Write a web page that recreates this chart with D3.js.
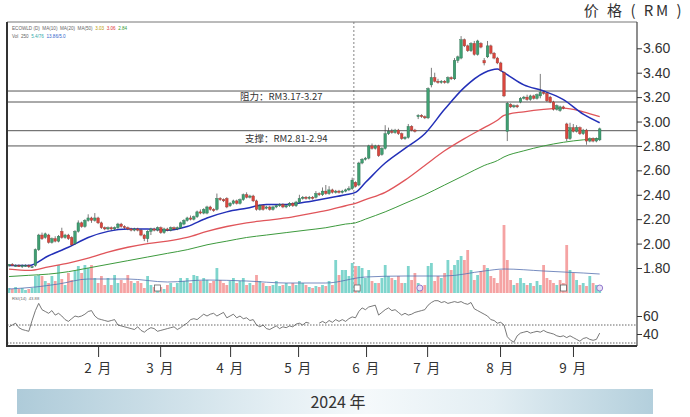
<!DOCTYPE html>
<html><head><meta charset="utf-8">
<script src="https://cdn.jsdelivr.net/npm/d3@7"></script>
<style>body{margin:0;background:#fff;} svg{display:block;font-family:"Liberation Sans",Arial,sans-serif;} text{white-space:pre;}</style>
</head><body><svg id="c" width="690" height="417"></svg>
<script>
// ---------- DATA ----------
const opens = [1.82,1.83,1.82,1.82,1.81,1.82,1.82,1.81,1.82,1.95,2.07,2.05,2.07,2.01,2.04,2.02,2.10,2.05,2.07,2.05,2.00,2.10,2.17,2.14,2.19,2.21,2.19,2.21,2.17,2.13,2.12,2.13,2.12,2.13,2.16,2.14,2.13,2.12,2.11,2.12,2.11,2.07,2.04,2.10,2.12,2.11,2.13,2.09,2.12,2.11,2.13,2.12,2.13,2.16,2.19,2.21,2.20,2.22,2.26,2.25,2.25,2.30,2.28,2.28,2.37,2.36,2.37,2.31,2.33,2.35,2.33,2.36,2.40,2.38,2.39,2.35,2.28,2.31,2.29,2.30,2.28,2.30,2.31,2.32,2.30,2.31,2.33,2.31,2.34,2.37,2.38,2.37,2.38,2.38,2.41,2.40,2.43,2.41,2.44,2.42,2.43,2.42,2.43,2.44,2.45,2.50,2.48,2.66,2.69,2.70,2.80,2.78,2.80,2.73,2.78,2.90,2.92,2.91,2.93,2.90,2.86,2.87,2.96,2.93,3.04,3.05,3.04,3.03,3.30,3.36,3.33,3.32,3.33,3.32,3.36,3.35,3.50,3.52,3.67,3.62,3.58,3.64,3.55,3.64,3.50,3.53,3.62,3.56,3.52,3.48,3.40,2.92,3.14,3.12,3.13,3.16,3.19,3.20,3.18,3.21,3.19,3.21,3.24,3.23,3.20,3.16,3.10,3.09,3.12,2.98,2.86,2.95,2.92,2.95,2.90,2.93,2.84,2.86,2.84,2.85];
const highs = [1.83,1.84,1.83,1.83,1.83,1.83,1.83,1.82,1.96,2.08,2.09,2.09,2.08,2.05,2.06,2.07,2.13,2.08,2.08,2.06,2.11,2.19,2.18,2.20,2.24,2.22,2.25,2.22,2.18,2.14,2.14,2.14,2.14,2.17,2.17,2.15,2.14,2.13,2.13,2.13,2.12,2.08,2.11,2.13,2.13,2.14,2.14,2.13,2.13,2.14,2.14,2.14,2.18,2.20,2.22,2.23,2.23,2.27,2.28,2.29,2.31,2.31,2.29,2.41,2.38,2.37,2.38,2.34,2.36,2.36,2.37,2.41,2.42,2.40,2.40,2.36,2.32,2.32,2.31,2.31,2.31,2.32,2.33,2.33,2.32,2.34,2.34,2.35,2.40,2.39,2.39,2.39,2.39,2.43,2.42,2.46,2.48,2.47,2.45,2.44,2.44,2.44,2.45,2.47,2.54,2.51,2.67,2.70,2.71,2.81,2.82,2.81,2.81,2.79,2.97,2.95,2.94,2.94,2.94,2.91,2.88,2.98,2.97,2.94,3.06,3.06,3.05,3.28,3.44,3.40,3.35,3.34,3.34,3.37,3.37,3.52,3.54,3.70,3.68,3.63,3.65,3.66,3.67,3.65,3.52,3.66,3.63,3.57,3.53,3.49,3.41,3.16,3.15,3.14,3.14,3.20,3.21,3.22,3.22,3.22,3.23,3.39,3.25,3.24,3.21,3.17,3.14,3.13,3.13,2.99,2.99,2.98,2.97,2.96,2.94,2.94,2.87,2.87,2.87,2.95];
const lows = [1.81,1.82,1.81,1.81,1.80,1.81,1.80,1.80,1.81,1.94,2.03,2.04,2.00,2.00,2.01,2.01,2.04,2.04,2.03,1.98,1.99,2.09,2.13,2.13,2.18,2.17,2.18,2.16,2.12,2.11,2.11,2.11,2.11,2.12,2.13,2.12,2.11,2.10,2.10,2.10,2.06,2.02,2.01,2.07,2.10,2.10,2.08,2.08,2.10,2.10,2.11,2.11,2.12,2.15,2.18,2.19,2.19,2.21,2.24,2.24,2.24,2.27,2.26,2.27,2.35,2.34,2.29,2.30,2.32,2.32,2.32,2.35,2.37,2.37,2.34,2.27,2.27,2.27,2.28,2.27,2.27,2.29,2.30,2.29,2.29,2.30,2.30,2.30,2.33,2.36,2.36,2.36,2.36,2.37,2.39,2.39,2.40,2.40,2.41,2.41,2.41,2.41,2.42,2.43,2.44,2.46,2.47,2.65,2.68,2.69,2.77,2.77,2.71,2.72,2.77,2.89,2.90,2.90,2.89,2.85,2.85,2.86,2.92,2.91,3.02,3.03,3.02,3.02,3.28,3.32,3.31,3.31,3.31,3.31,3.34,3.34,3.48,3.51,3.61,3.57,3.57,3.54,3.54,3.60,3.46,3.52,3.55,3.51,3.47,3.41,3.20,2.84,3.11,3.11,3.11,3.15,3.18,3.17,3.17,3.18,3.18,3.19,3.22,3.16,3.15,3.09,3.09,3.08,3.10,2.84,2.85,2.91,2.91,2.89,2.89,2.81,2.83,2.83,2.83,2.84];
const closes = [1.83,1.82,1.82,1.81,1.82,1.82,1.81,1.81,1.95,2.07,2.04,2.08,2.01,2.04,2.02,2.06,2.05,2.07,2.04,1.99,2.10,2.17,2.14,2.19,2.21,2.19,2.21,2.17,2.13,2.12,2.13,2.12,2.13,2.16,2.14,2.13,2.12,2.11,2.12,2.11,2.07,2.04,2.10,2.12,2.11,2.13,2.09,2.12,2.11,2.13,2.12,2.13,2.17,2.19,2.21,2.20,2.22,2.26,2.25,2.28,2.30,2.28,2.27,2.37,2.36,2.35,2.30,2.33,2.35,2.33,2.36,2.40,2.38,2.39,2.35,2.28,2.31,2.28,2.30,2.28,2.30,2.31,2.32,2.30,2.31,2.33,2.31,2.34,2.37,2.38,2.37,2.38,2.37,2.41,2.40,2.43,2.41,2.44,2.42,2.43,2.42,2.43,2.44,2.45,2.52,2.47,2.66,2.69,2.70,2.80,2.78,2.80,2.72,2.78,2.90,2.92,2.91,2.93,2.90,2.86,2.87,2.96,2.93,2.92,3.05,3.04,3.03,3.27,3.36,3.33,3.32,3.33,3.32,3.36,3.35,3.50,3.53,3.67,3.62,3.58,3.64,3.55,3.66,3.61,3.48,3.62,3.56,3.52,3.48,3.42,3.21,3.15,3.12,3.13,3.12,3.19,3.20,3.18,3.21,3.19,3.22,3.24,3.23,3.17,3.16,3.10,3.13,3.12,3.11,2.86,2.95,2.92,2.95,2.90,2.93,2.84,2.86,2.84,2.86,2.94];
const volumes = [5,4,6,4,5,3,4,5,17,18,17,12,10,17,12,28,14,8,20,13,22,27,20,28,25,28,15,10,17,8,15,8,18,10,13,10,18,12,10,12,10,5,17,8,6,5,6,4,8,10,6,10,15,12,15,10,18,17,12,15,13,10,12,25,13,10,8,12,15,10,12,15,8,10,8,18,12,10,7,7,8,12,7,8,10,7,10,8,12,10,8,6,5,7,6,8,7,12,8,33,18,23,23,17,30,27,27,25,15,23,12,10,10,15,28,17,15,13,17,10,10,27,13,20,10,7,8,27,30,12,17,15,20,33,23,28,33,37,33,43,23,13,18,22,28,25,17,15,10,23,68,33,13,8,10,15,10,8,10,7,12,8,28,15,13,10,8,13,10,48,23,20,13,8,10,7,17,10,8,8];
const rsi = [48,50,52,47,45,44,43,55,66,74,67,65,63,66,61,63,60,56,54,57,60,59,60,62,65,66,60,57,56,55,54,55,56,50,49,48,47,46,45,48,44,42,45,47,46,43,44,45,46,47,48,45,47,50,52,56,57,56,59,62,60,62,63,60,62,64,58,60,62,58,60,57,58,55,56,50,48,50,46,45,47,49,46,48,47,49,48,51,52,50,53,52,null,null,52,54,52,55,53,56,54,56,54,57,59,58,65,69,67,70,71,72,61,64,67,69,66,67,64,61,63,61,62,64,65,66,67,72,75,77,77,75,76,74,75,76,75,76,74,73,75,68,66,64,62,60,56,55,52,53,50,37,33,31,38,41,42,43,41,42,43,42,44,42,41,40,38,37,38,36,38,36,34,32,35,36,34,33,34,41];
// moving averages read at sample candles
const maIdx  = [0,6,12,18,24,30,36,42,48,54,60,66,72,78,84,90,96,102,105,108,114,120,126,132,138,144,148,150,156,162,168,174,179];
const maShort= [1.82,1.82,1.90,1.97,2.05,2.10,2.12,2.12,2.11,2.14,2.21,2.26,2.29,2.32,2.32,2.34,2.37,2.40,2.42,2.50,2.66,2.78,2.90,3.10,3.28,3.40,3.43,3.40,3.30,3.25,3.18,3.06,2.99];
const maMid  = [1.79,1.78,1.81,1.84,1.88,1.93,1.97,2.00,2.02,2.05,2.10,2.14,2.17,2.19,2.21,2.24,2.27,2.31,2.33,2.36,2.42,2.52,2.64,2.76,2.86,2.95,3.01,3.05,3.08,3.10,3.11,3.08,3.04];
const maLong = [1.73,1.74,1.75,1.77,1.80,1.83,1.86,1.89,1.92,1.95,1.99,2.02,2.05,2.07,2.09,2.11,2.13,2.16,2.17,2.20,2.26,2.33,2.40,2.48,2.56,2.64,2.68,2.71,2.76,2.80,2.83,2.85,2.86];
const volMaIdx = [0,8,15,24,36,48,60,72,84,96,108,120,132,144,150,162,174,179];
const volMa    = [4,6,9,14,14,11,13,12,10,10,16,17,17,22,24,22,20,19];
const priceTicks = [1.8,2.0,2.2,2.4,2.6,2.8,3.0,3.2,3.4,3.6];
const rsiTicks = [60,40];
const rsiLevels = [50,30];
const monthIdx = [27,45.8,67,87.6,108.2,126.7,148.8,170.9];
const monthLabels = ["2 月","3 月","4 月","5 月","6 月","7 月","8 月","9 月"];
const srLevels = [3.25,3.16,2.925,2.80];
const srTexts = [{t:"阻力：RM3.17-3.27", v:3.205},{t:"支撑：RM2.81-2.94", v:2.86}];
const squareIdx = [45,105.5,168];
const circleIdx = [124.5,179];
const markerIdx = 104.5;

// ---------- SCALES ----------
const svg = d3.select("#c");
const L=7, R=637, T=22, B=346;
const x = d3.scaleLinear().domain([0,179]).range([9,599.7]);
const yP = d3.scaleLinear().domain([1.8,3.6]).range([268,48.3]);
const yV = d3.scaleLinear().domain([0,70]).range([293,223]);
const yR = d3.scaleLinear().domain([30,50]).range([343,325]);

// header
svg.append("text").attr("x",684).attr("y",16).attr("text-anchor","end")
  .attr("font-size",15).attr("fill","#333").attr("letter-spacing","2.5")
  .attr("font-family","'Noto Sans CJK SC','Liberation Sans',sans-serif").text("价 格 ( RM )");

// frame
svg.append("line").attr("x1",L).attr("x2",R).attr("y1",T).attr("y2",T).attr("stroke","#777").attr("stroke-width",1);
svg.append("line").attr("x1",R).attr("x2",R).attr("y1",T).attr("y2",B).attr("stroke","#444").attr("stroke-width",1.2);

// legends (tiny)
const lg = svg.append("g").attr("font-size",4.6).attr("fill","#666");
const l1 = lg.append("text").attr("x",12).attr("y",30);
l1.append("tspan").text("ECOWLD (D)  MA(10)  MA(20)  MA(50)  ");
l1.append("tspan").attr("fill","#b89a00").text("3.03  ");
l1.append("tspan").attr("fill","#d33").text("3.06  ");
l1.append("tspan").attr("fill","#393").text("2.84");
const l2 = lg.append("text").attr("x",12).attr("y",38);
l2.append("tspan").text("Vol  250  ");
l2.append("tspan").attr("fill","#3aa").text("5.4/76  ");
l2.append("tspan").attr("fill","#36c").text("13.86/5.0");
lg.append("text").attr("x",12).attr("y",300).attr("font-size",4.2).text("RSI(14)  43.88");

// vertical dashed marker
svg.append("line").attr("x1",x(markerIdx)).attr("x2",x(markerIdx)).attr("y1",T).attr("y2",294)
  .attr("stroke","#777").attr("stroke-width",0.9).attr("stroke-dasharray","2,2");

// S/R lines
svg.append("g").selectAll("line").data(srLevels).join("line")
  .attr("x1",L).attr("x2",R).attr("y1",d=>yP(d)).attr("y2",d=>yP(d))
  .attr("stroke","#555").attr("stroke-width",1);
svg.append("g").selectAll("text").data(srTexts).join("text")
  .attr("x",(d,i)=>i?245:240).attr("y",d=>yP(d.v)+3.5).attr("font-size",9.5).attr("fill","#333")
  .attr("font-family","'Noto Sans CJK SC',sans-serif").text(d=>d.t);

// volume
const vcol = (i)=> (i===0 || closes[i]>=closes[i-1]) ? "#7fd5cd" : "#f5a3a3";
svg.append("g").selectAll("rect").data(volumes).join("rect")
  .attr("x",(d,i)=>x(i)-1.4).attr("width",2.8)
  .attr("y",d=>yV(d)).attr("height",d=>yV(0)-yV(d)).attr("fill",(d,i)=>vcol(i));
svg.append("path").datum(volMaIdx.map((k,i)=>[k,volMa[i]]))
  .attr("d",d3.line().x(d=>x(d[0])).y(d=>yV(d[1])).curve(d3.curveMonotoneX))
  .attr("fill","none").attr("stroke","#5570b0").attr("stroke-width",0.8);

// markers
svg.append("g").selectAll("rect").data(squareIdx).join("rect")
  .attr("x",d=>x(d)-3).attr("y",285).attr("width",6).attr("height",6)
  .attr("fill","#fff").attr("stroke","#666").attr("stroke-width",0.8);
svg.append("g").selectAll("circle").data(circleIdx).join("circle")
  .attr("cx",d=>x(d)).attr("cy",288).attr("r",3)
  .attr("fill","#e8e0f5").attr("stroke","#8a6fc9").attr("stroke-width",0.9);

// MA lines
const maLine = d3.line().x(d=>x(d[0])).y(d=>yP(d[1])).curve(d3.curveMonotoneX);
[[maLong,"#3d9a3d",1],[maMid,"#e0555a",1.3],[maShort,"#2330b8",1.5]].forEach(([arr,c,w])=>{
  svg.append("path").datum(maIdx.map((k,i)=>[k,arr[i]])).attr("d",maLine)
    .attr("fill","none").attr("stroke",c).attr("stroke-width",w);
});

// candles
const cg = svg.append("g");
closes.forEach((c,i)=>{
  const o=opens[i], up=c>=o, cx=x(i);
  cg.append("line").attr("x1",cx).attr("x2",cx).attr("y1",yP(highs[i])).attr("y2",yP(lows[i]))
    .attr("stroke","#444").attr("stroke-width",0.7);
  const y1=yP(Math.max(o,c)), y2=yP(Math.min(o,c));
  cg.append("rect").attr("x",cx-1.3).attr("width",2.6).attr("y",y1).attr("height",Math.max(0.8,y2-y1))
    .attr("fill",up?"#3f9f72":"#d9463e").attr("stroke",up?"#2d6e50":"#9a3a33").attr("stroke-width",0.4);
});

// price axis
const ay = svg.append("g").attr("transform",`translate(${R},0)`)
  .call(d3.axisRight(yP).tickValues(priceTicks).tickFormat(d3.format(".2f")).tickSize(5).tickPadding(1));
ay.select(".domain").remove();
ay.selectAll("line").attr("stroke","#333");
ay.selectAll("text").attr("font-size",14).attr("fill","#333").attr("font-family","'Liberation Sans',Arial,sans-serif");

// RSI
svg.append("g").selectAll("line").data(rsiLevels).join("line")
  .attr("x1",L).attr("x2",R).attr("y1",d=>yR(d)).attr("y2",d=>yR(d))
  .attr("stroke","#555").attr("stroke-width",0.9).attr("stroke-dasharray","1.5,1.5");
svg.append("path").datum(rsi)
  .attr("d",d3.line().defined(d=>d!==null).x((d,i)=>x(i)).y(d=>yR(d)))
  .attr("fill","none").attr("stroke","#555").attr("stroke-width",0.8);
const ar = svg.append("g").attr("transform",`translate(${R},0)`)
  .call(d3.axisRight(yR).tickValues(rsiTicks).tickSize(5).tickPadding(1));
ar.select(".domain").remove();
ar.selectAll("line").attr("stroke","#333");
ar.selectAll("text").attr("font-size",14).attr("fill","#333").attr("font-family","'Liberation Sans',Arial,sans-serif");

// left & bottom frame
svg.append("line").attr("x1",L).attr("x2",L).attr("y1",T).attr("y2",B).attr("stroke","#333").attr("stroke-width",2);
svg.append("line").attr("x1",L-1).attr("x2",R).attr("y1",B).attr("y2",B).attr("stroke","#333").attr("stroke-width",2);

// month axis
const ax = svg.append("g").attr("transform",`translate(0,${B+1})`)
  .call(d3.axisBottom(x).tickValues(monthIdx).tickFormat((d,i)=>monthLabels[i]).tickSize(10).tickPadding(6));
ax.select(".domain").remove();
ax.selectAll("line").attr("stroke","#333").attr("stroke-width",1);
ax.selectAll("text").attr("font-size",13.5).attr("fill","#333").attr("letter-spacing","1.5")
  .attr("font-family","'Noto Sans CJK SC',sans-serif");

// banner
const defs = svg.append("defs");
const g = defs.append("linearGradient").attr("id","bn").attr("x1","0").attr("x2","1");
[["0%","#aecbd9"],["40%","#e3eef3"],["55%","#f5f9fb"],["75%","#e3eef3"],["100%","#b3cfdc"]]
  .forEach(([o,c])=>g.append("stop").attr("offset",o).attr("stop-color",c));
svg.append("rect").attr("x",17).attr("y",389).attr("width",636).attr("height",25).attr("fill","url(#bn)");
svg.append("text").attr("x",338).attr("y",408).attr("text-anchor","middle").attr("font-size",16).attr("fill","#333")
  .attr("font-family","'Noto Sans CJK SC','Liberation Sans',sans-serif").text("2024 年");
</script></body></html>
